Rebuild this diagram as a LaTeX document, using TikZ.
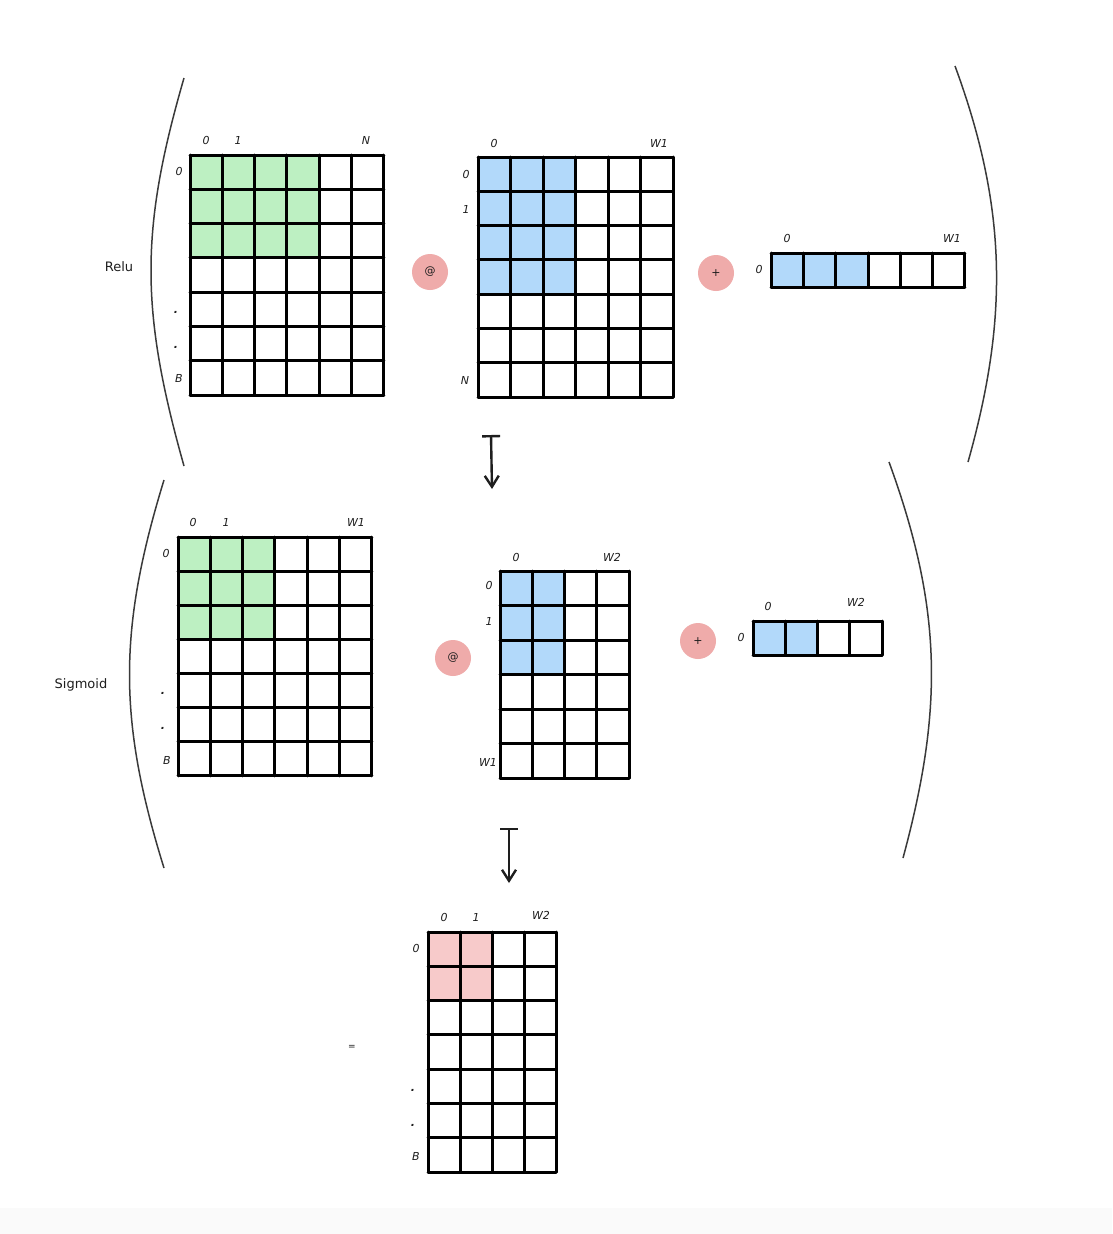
\documentclass[tikz,border=0pt]{standalone}
\usepackage{fontspec}
\setmainfont{DejaVu Sans}
\usetikzlibrary{arrows.meta}
\definecolor{gcell}{HTML}{BDF0C2}
\definecolor{bcell}{HTML}{B2D9FA}
\definecolor{pcell}{HTML}{F7CACA}
\definecolor{opcol}{HTML}{EFABAA}
\definecolor{ink}{HTML}{1E1E1E}
\definecolor{paren}{HTML}{3A3A3A}
\newcommand\mgrid[9]{%
  \fill[#9] (#1,#2) rectangle ({#1+#7*#3},{#2+#8*#4});
  \foreach \i in {0,...,#5} {\draw[gridline] ({#1+\i*#3},#2) -- ({#1+\i*#3},{#2+#6*#4});}
  \foreach \j in {0,...,#6} {\draw[gridline] (#1,{#2+\j*#4}) -- ({#1+#5*#3},{#2+\j*#4});}
}
\begin{document}
\begin{tikzpicture}[x=1pt,y=-1pt,
  gridline/.style={line width=3pt, draw=black, line cap=round},
  lbl/.style={font=\fontsize{11}{13}\selectfont\itshape, text=ink, inner sep=0pt},
  word/.style={font=\fontsize{13}{15}\selectfont, text=ink, inner sep=0pt},
  opnode/.style={circle, fill=opcol, minimum size=36pt, inner sep=0pt, font=\fontsize{11}{13}\selectfont, text=ink},
  parenline/.style={draw=paren, line width=1.5pt},
  flow/.style={draw=ink, line width=2.4pt, {Bar[width=18pt]}-{Straight Barb[length=11pt,width=14pt]}}]
\useasboundingbox (0,0) rectangle (1112,1234);
\fill[white] (0,0) rectangle (1112,1234);
\fill[black!2] (0,1208) rectangle (1112,1234);

% brackets
\draw[parenline] (184,78) .. controls (140,230) and (140,310) .. (184,466);
\draw[parenline] (955,66) .. controls (1008,210) and (1008,320) .. (968,462);
\draw[parenline] (164,480) .. controls (118,630) and (118,720) .. (164,868);
\draw[parenline] (889,462) .. controls (943,610) and (943,710) .. (903,858);

% row 1
\node[word] (relu) at (119,267) {Relu};
\mgrid{190}{155}{32.33}{34.29}{6}{7}{4}{3}{gcell}
\node[lbl] (g1c0) at (206,140) {0};
\node[lbl] (g1c1) at (238,140) {1};
\node[lbl] (g1cn) at (366,140) {N};
\node[lbl] (g1r0) at (179,171) {0};
\node[lbl] (g1d1) at (176,312) {\textbf{.}};
\node[lbl] (g1d2) at (176,347) {\textbf{.}};
\node[lbl] (g1rb) at (179,378) {B};

\node[opnode] (mm1) at (430,272) {@};

\mgrid{478}{157}{32.5}{34.29}{6}{7}{3}{4}{bcell}
\node[lbl] (g2c0) at (494,143) {0};
\node[lbl] (g2cw) at (659,143) {W1};
\node[lbl] (g2r0) at (466,174) {0};
\node[lbl] (g2r1) at (466,209) {1};
\node[lbl] (g2rn) at (465,380) {N};

\node[opnode] (add1) at (716,273) {+};

\mgrid{771}{253}{32.33}{34}{6}{1}{3}{1}{bcell}
\node[lbl] (v1c0) at (787,238) {0};
\node[lbl] (v1cw) at (952,238) {W1};
\node[lbl] (v1r0) at (759,269) {0};

% arrow 1
\coordinate (a1s) at (491,435);
\coordinate (a1e) at (492,489);
\draw[flow] (a1s) -- (a1e);

% row 2
\node[word] (sig) at (81,685) {Sigmoid};
\mgrid{178}{537}{32.33}{34.14}{6}{7}{3}{3}{gcell}
\node[lbl] (g3c0) at (193,522) {0};
\node[lbl] (g3c1) at (226,522) {1};
\node[lbl] (g3cw) at (356,522) {W1};
\node[lbl] (g3r0) at (166,553) {0};
\node[lbl] (g3d1) at (163,693) {\textbf{.}};
\node[lbl] (g3d2) at (163,728) {\textbf{.}};
\node[lbl] (g3rb) at (167,760) {B};

\node[opnode] (mm2) at (453,658) {@};

\mgrid{500}{571}{32.25}{34.5}{4}{6}{2}{3}{bcell}
\node[lbl] (g4c0) at (516,557) {0};
\node[lbl] (g4cw) at (612,557) {W2};
\node[lbl] (g4r0) at (489,585) {0};
\node[lbl] (g4r1) at (489,621) {1};
\node[lbl] (g4rw) at (488,762) {W1};

\node[opnode] (add2) at (698,641) {+};

\mgrid{753}{621}{32.25}{34}{4}{1}{2}{1}{bcell}
\node[lbl] (v2c0) at (768,606) {0};
\node[lbl] (v2cw) at (856,602) {W2};
\node[lbl] (v2r0) at (741,637) {0};

% arrow 2
\coordinate (a2s) at (509,828);
\coordinate (a2e) at (509,883);
\draw[flow] (a2s) -- (a2e);

% result
\node[lbl, font=\fontsize{9}{10}\selectfont] (eq) at (352,1047) {=};
\mgrid{428}{932}{32}{34.29}{4}{7}{2}{2}{pcell}
\node[lbl] (g5c0) at (444,917) {0};
\node[lbl] (g5c1) at (476,917) {1};
\node[lbl] (g5cw) at (541,915) {W2};
\node[lbl] (g5r0) at (416,948) {0};
\node[lbl] (g5d1) at (413,1090) {\textbf{.}};
\node[lbl] (g5d2) at (413,1125) {\textbf{.}};
\node[lbl] (g5rb) at (416,1156) {B};
\end{tikzpicture}
\end{document}
